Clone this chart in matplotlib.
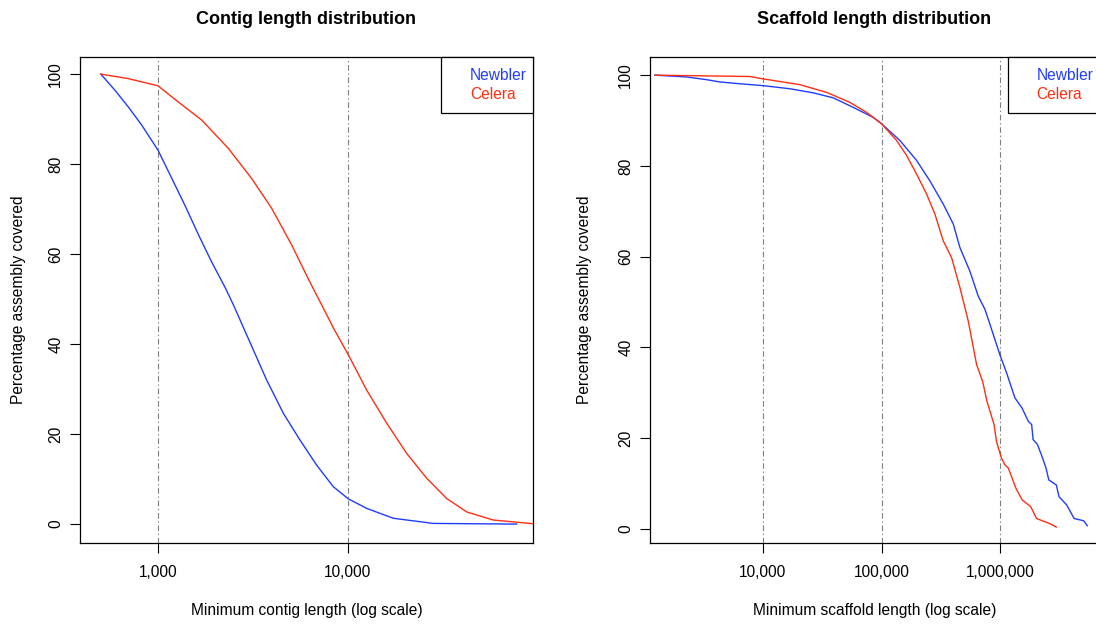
import numpy as np
import matplotlib.pyplot as plt
from matplotlib.patches import Rectangle
from matplotlib.ticker import FixedLocator, NullLocator

plt.rcParams['font.family'] = ['Liberation Sans', 'DejaVu Sans']

BLUE = '#1f3cff'
RED = '#ff2e12'

series_names = ['Newbler', 'Celera']

# contig lengths (bp) and percentage of assembly in contigs >= length
contig_newbler_len = [500, 594, 698, 820, 1000, 1180, 1387, 1629, 1919, 2254,
                      2489, 3048, 3733, 4571, 5585, 6839, 8375, 10050, 12530,
                      17300, 28100, 77300]
contig_newbler_pct = [100, 96.4, 92.7, 88.7, 83.1, 76.9, 70.8, 64.4, 58.2, 52.6,
                      48.8, 40.4, 32.0, 24.6, 18.7, 13.1, 8.3, 5.6, 3.5,
                      1.3, 0.15, 0.0]

contig_celera_len = [500, 698, 1000, 1279, 1698, 2344, 3112, 3963, 5058, 6180,
                     7413, 8375, 10050, 12530, 16000, 20370, 25940, 33040,
                     42170, 58210, 90780, 94000]
contig_celera_pct = [100, 99.0, 97.4, 93.8, 89.8, 83.5, 76.8, 70.2, 62.0, 54.5,
                     48.0, 43.6, 37.6, 29.8, 22.4, 15.7, 10.2, 5.7,
                     2.7, 0.9, 0.15, 0.1]

# scaffold lengths (bp) and percentage of assembly in scaffolds >= length
scaf_newbler_len = [1247, 2301, 3388, 4385, 6457, 10000, 17000, 26700, 39300,
                    57800, 85100, 100000, 142800, 197200, 255000, 330000,
                    401000, 456000, 553000, 650000, 740000, 815000, 988000,
                    1125000, 1321000, 1520000, 1714000, 1828000, 1879000,
                    2046000, 2260000, 2415000, 2547000, 2944000, 3105000,
                    3597000, 4159000, 5000000, 5360000]
scaf_newbler_pct = [100, 99.6, 99.0, 98.5, 98.1, 97.7, 97.0, 96.1, 95.0,
                    92.9, 90.7, 89.3, 85.6, 81.2, 76.7, 71.6,
                    67.2, 62.0, 56.8, 51.3, 48.4, 45.1, 38.4,
                    34.4, 28.9, 26.6, 23.7, 23.0, 19.7,
                    18.6, 15.6, 13.4, 10.8, 9.7, 7.1,
                    5.3, 2.3, 1.8, 0.7]

scaf_celera_len = [1247, 7830, 10000, 20600, 34600, 54200, 74900, 100000,
                   133900, 162500, 197200, 239300, 281000, 330000, 388000,
                   456000, 536000, 630000, 708000, 770000, 883000, 925000,
                   1019000, 1091000, 1164000, 1346000, 1520000, 1795000,
                   2009000, 2582000, 2944000]
scaf_celera_pct = [100, 99.7, 99.2, 97.9, 96.2, 94.0, 91.8, 89.3,
                   85.6, 82.3, 78.2, 73.8, 69.4, 63.5, 59.8,
                   53.2, 45.8, 36.2, 32.5, 28.1, 23.0, 19.3,
                   15.6, 14.1, 13.4, 9.0, 6.4, 4.9,
                   2.3, 1.2, 0.4]

contig_ticks = [1000, 10000]
contig_ticklabels = ['1,000', '10,000']
scaf_ticks = [10000, 100000, 1000000]
scaf_ticklabels = ['10,000', '100,000', '1,000,000']
pct_ticks = [0, 20, 40, 60, 80, 100]

W, H = 1096, 624
FS = 11.2
fig = plt.figure(figsize=(W / 100, H / 100), dpi=100)


def add_panel(px_left, px_right, xlim, ylim):
    ax = fig.add_axes([px_left / W, (H - 543) / H,
                       (px_right - px_left) / W, 486 / H])
    ax.set_xscale('log')
    ax.set_xlim(*xlim)
    ax.set_ylim(*ylim)
    for s in ax.spines.values():
        s.set_linewidth(0.9)
    ax.tick_params(length=7, width=0.8, labelsize=FS, direction='out')
    ax.tick_params(axis='x', pad=9)
    ax.tick_params(axis='y', pad=5)
    ax.xaxis.set_minor_locator(NullLocator())
    ax.set_yticks(pct_ticks)
    ax.set_yticklabels([str(t) for t in pct_ticks], rotation=90, va='center')
    return ax


def finish_panel(ax, title, xlabel, ticks, ticklabels, ylab_x):
    ax.xaxis.set_major_locator(FixedLocator(ticks))
    ax.set_xticklabels(ticklabels)
    for t in ticks:
        ax.axvline(t, color='#7f7f7f', lw=0.8,
                   linestyle=(0, (5, 2.5, 1.2, 2.5)), zorder=1)
    ax.set_title(title, fontsize=13, fontweight='bold', pad=0,
                 y=1 + 37 / 486, va='center')
    ax.set_xlabel(xlabel, fontsize=FS)
    ax.xaxis.label.set_va('center')
    ax.xaxis.set_label_coords(0.5, -(611 - 543) / 486)
    ax.set_ylabel('Percentage assembly covered', fontsize=FS)
    ax.yaxis.label.set_va('center')
    ax.yaxis.set_label_coords(ylab_x, 0.5)

    # R-style legend: plain box in the top right corner, coloured text only
    ax.add_patch(Rectangle((0.797, 0.885), 0.203, 0.115, transform=ax.transAxes,
                           facecolor='white', edgecolor='black', lw=0.9,
                           zorder=5, clip_on=False))
    for name, color, ypos in zip(series_names, [BLUE, RED], [0.961, 0.922]):
        ax.text(0.861, ypos, name, color=color, fontsize=FS, ha='left',
                va='center', transform=ax.transAxes, zorder=6)


# contig panel
ax1 = add_panel(80, 533, (10 ** 2.5895, 10 ** 4.9737), (-4.2, 103.8))
ax1.plot(contig_newbler_len, contig_newbler_pct, color=BLUE, lw=1.0, zorder=3)
ax1.plot(contig_celera_len, contig_celera_pct, color=RED, lw=1.0, zorder=3)
finish_panel(ax1, 'Contig length distribution', 'Minimum contig length (log scale)',
             contig_ticks, contig_ticklabels, -(80 - 18) / 453)

# scaffold panel
ax2 = add_panel(650, 1099, (10 ** 3.054, 10 ** 6.828), (-3.1, 104.0))
ax2.plot(scaf_newbler_len, scaf_newbler_pct, color=BLUE, lw=1.0, zorder=3)
ax2.plot(scaf_celera_len, scaf_celera_pct, color=RED, lw=1.0, zorder=3)
finish_panel(ax2, 'Scaffold length distribution', 'Minimum scaffold length (log scale)',
             scaf_ticks, scaf_ticklabels, -(650 - 585) / 449)

fig.savefig('out.png', dpi=100)
